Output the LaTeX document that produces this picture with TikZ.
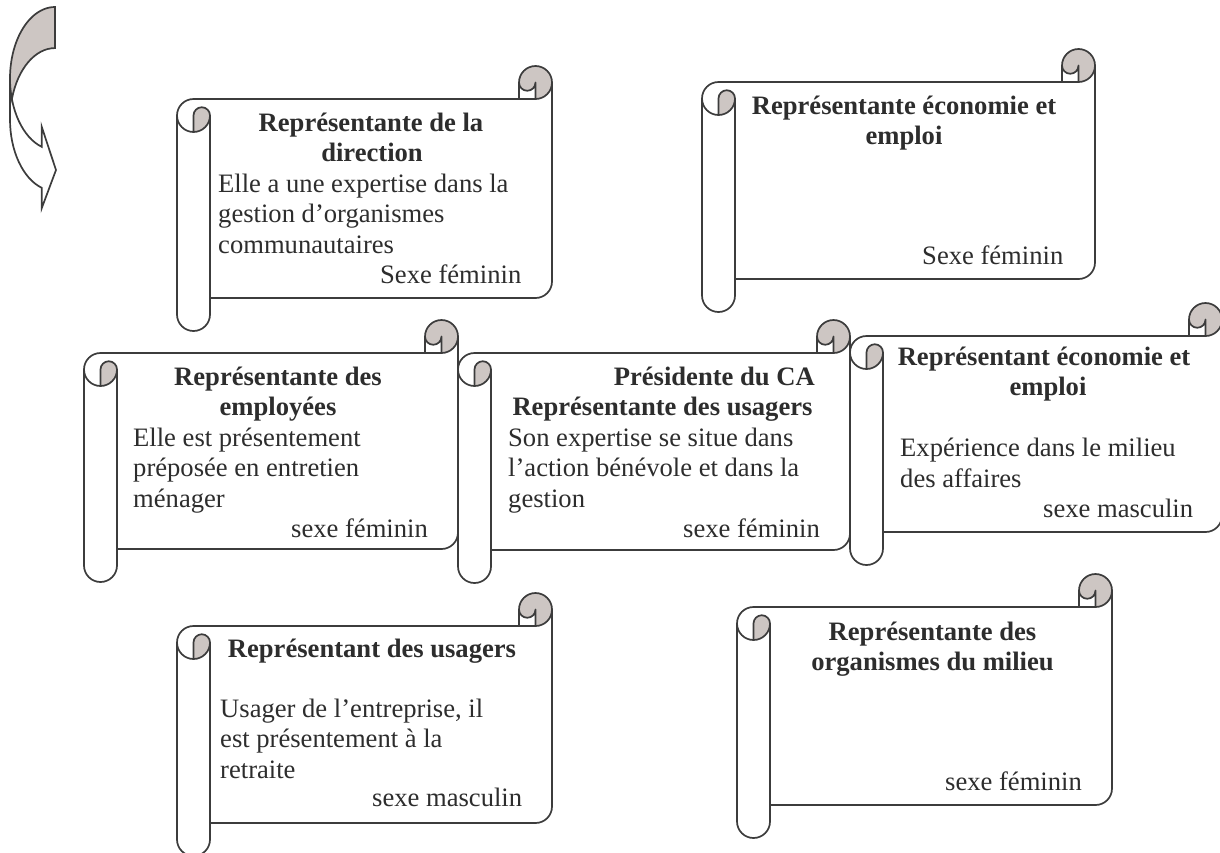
\documentclass[tikz,border=0pt]{standalone}
\usepackage{fontspec}
\setmainfont{Liberation Serif}
\definecolor{rollgray}{RGB}{205,198,195}
\definecolor{edge}{RGB}{60,60,60}
\definecolor{ink}{RGB}{45,45,45}
\newcommand\scrollshape[4]{%
\pgfmathsetmacro\scL{#1}%
\pgfmathsetmacro\scT{#2}%
\pgfmathsetmacro\scR{#3}%
\pgfmathsetmacro\scB{#4}%
\pgfmathsetmacro\scXa{\scR-33}%
\pgfmathsetmacro\scXb{\scR-16.5}%
\pgfmathsetmacro\scLa{\scL+16.5}%
\pgfmathsetmacro\scLb{\scL+33}%
\pgfmathsetmacro\scTa{\scT+16.5}%
\pgfmathsetmacro\scTb{\scT+33}%
\pgfmathsetmacro\scTc{\scT+49.5}%
\pgfmathsetmacro\scTd{\scT+66}%
\pgfmathsetmacro\scBa{\scB-16.5}%
\pgfmathsetmacro\scBb{\scB-33}%
\pgfmathsetmacro\scBc{\scB-49.5}%
\fill[white] (\scR,\scTa) arc[start angle=0,end angle=90,radius=16.5] -- (\scXb,\scTa) arc[start angle=0,end angle=180,radius=8.25] -- (\scXa,\scTb) -- (\scLa,\scTb) arc[start angle=270,end angle=180,radius=16.5] -- (\scL,\scBa) arc[start angle=180,end angle=0,radius=16.5] -- (\scLb,\scBb) -- (\scXb,\scBb) arc[start angle=90,end angle=0,radius=16.5] -- cycle;
\fill[rollgray] (\scLa,\scTd) arc[start angle=90,end angle=0,radius=16.5] arc[start angle=0,end angle=-180,radius=8.25] -- cycle;
\fill[rollgray] (\scXb,\scTb) arc[start angle=90,end angle=-180,radius=16.5] arc[start angle=180,end angle=0,radius=8.25] -- cycle;
\draw[scrollline] (\scL,\scTc) arc[start angle=180,end angle=270,radius=16.5] -- (\scXa,\scTb) -- (\scXa,\scTa) arc[start angle=180,end angle=360,radius=16.5] -- (\scR,\scBc) arc[start angle=0,end angle=90,radius=16.5] -- (\scLb,\scBb) -- (\scLb,\scBa) arc[start angle=0,end angle=180,radius=16.5] -- cycle;
\draw[scrollline] (\scXa,\scTb) -- (\scXb,\scTb) arc[start angle=90,end angle=0,radius=16.5];
\draw[scrollline] (\scXb,\scTb) -- (\scXb,\scTa) arc[start angle=0,end angle=180,radius=8.25];
\draw[scrollline] (\scLa,\scTd) -- (\scLa,\scTc) arc[start angle=180,end angle=360,radius=8.25] arc[start angle=0,end angle=180,radius=16.5];
\draw[scrollline] (\scLb,\scTc) -- (\scLb,\scBb);
}
\begin{document}
\begin{tikzpicture}[x=1pt,y=-1pt,
  scrollline/.style={draw=edge,line width=1.7pt,line join=round},
  hd/.style={font=\bfseries\fontsize{26.6}{30.5}\selectfont,text=ink,inner sep=0pt,anchor=base},
  hdr/.style={hd,anchor=base east},
  tx/.style={font=\fontsize{26.6}{30.5}\selectfont,text=ink,inner sep=0pt,anchor=base west}]
\useasboundingbox (0,0) rectangle (1220,852);
% curved arrow
\filldraw[fill=white,draw=edge,line width=1.7pt,line join=miter] (10,78.5) arc[start angle=180,end angle=107.2,x radius=45,y radius=71.5] -- (41.7,126.7) -- (56,170) -- (41.7,208.3) -- (41.7,187.8) arc[start angle=107.2,end angle=180,x radius=45,y radius=71.5] -- cycle;
\filldraw[fill=rollgray,draw=edge,line width=1.7pt,line join=miter] (55,7) arc[start angle=270,end angle=163.3,x radius=45,y radius=71.5] arc[start angle=196.7,end angle=270,x radius=45,y radius=71.5] -- cycle;
% scroll 1
\scrollshape{177}{66}{552}{331}
\node[hd] (s1a) at (371,131) {Représentante de la};
\node[hd] (s1b) at (372,161.5) {direction};
\node[tx] (s1c) at (218,192) {Elle a une expertise dans la};
\node[tx] (s1d) at (218,222.5) {gestion d’organismes};
\node[tx] (s1e) at (218,253) {communautaires};
\node[tx] (s1f) at (380,283.5) {Sexe féminin};
% scroll 2
\scrollshape{702}{49}{1095}{312}
\node[hd] (s2a) at (904,114) {Représentante économie et};
\node[hd] (s2b) at (904,144.5) {emploi};
\node[tx] (s2c) at (922,264) {Sexe féminin};
% scroll 3
\scrollshape{84}{320}{458}{582}
\node[hd] (s3a) at (278,385) {Représentante des};
\node[hd] (s3b) at (278,415.5) {employées};
\node[tx] (s3c) at (133,446) {Elle est présentement};
\node[tx] (s3d) at (133,476.5) {préposée en entretien};
\node[tx] (s3e) at (133,507) {ménager};
\node[tx] (s3f) at (291,537.5) {sexe féminin};
% scroll 4
\scrollshape{458}{320}{850}{583}
\node[hdr] (s4a) at (815,385) {Présidente du CA};
\node[hd] (s4b) at (662.5,415.5) {Représentante des usagers};
\node[tx] (s4c) at (508,446) {Son expertise se situe dans};
\node[tx] (s4d) at (508,476.5) {l’action bénévole et dans la};
\node[tx] (s4e) at (508,507) {gestion};
\node[tx] (s4f) at (683,537.5) {sexe féminin};
% scroll 5
\scrollshape{850}{303}{1222}{565}
\node[hd] (s5a) at (1044,365) {Représentant économie et};
\node[hd] (s5b) at (1048,395.5) {emploi};
\node[tx] (s5c) at (900,456.5) {Expérience dans le milieu};
\node[tx] (s5d) at (900,487) {des affaires};
\node[tx] (s5e) at (1043,517.5) {sexe masculin};
% scroll 6
\scrollshape{177}{593}{552}{856}
\node[hd] (s6a) at (372,657) {Représentant des usagers};
\node[tx] (s6b) at (220,717) {Usager de l’entreprise, il};
\node[tx] (s6c) at (220,747.5) {est présentement à la};
\node[tx] (s6d) at (220,778) {retraite};
\node[tx] (s6e) at (372,806) {sexe masculin};
% scroll 7
\scrollshape{737}{574}{1112}{838}
\node[hd] (s7a) at (932.5,640) {Représentante des};
\node[hd] (s7b) at (932.5,670.5) {organismes du milieu};
\node[tx] (s7c) at (945,790) {sexe féminin};
\end{tikzpicture}
\end{document}
